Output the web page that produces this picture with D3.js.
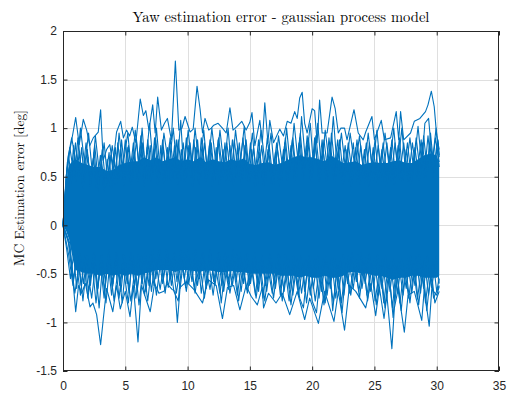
<!DOCTYPE html>
<html><head><meta charset="utf-8">
<script src="https://cdn.jsdelivr.net/npm/d3@7"></script>
<style>body{margin:0;background:#fff}</style></head>
<body><svg id="chart" width="514" height="394"></svg>
<script>
// ---------- data ----------
const titleText = "Yaw estimation error - gaussian process model";
const yLabelText = "MC Estimation error [deg]";
const xTicks = [0, 5, 10, 15, 20, 25, 30, 35];
const yTicks = [-1.5, -1, -0.5, 0, 0.5, 1, 1.5, 2];
const yTickLabels = ["-1.5", "-1", "-0.5", "0", "0.5", "1", "1.5", "2"];

// dense core of the Monte-Carlo bundle (solid band)
const coreTimes  = [0,0.25,0.5,0.75,1,1.5,2,2.5,3,3.5,4,4.5,5,5.5,6,6.5,7,7.5,8,8.5,9,9.5,10,10.5,11,11.5,12,12.5,13,13.5,14,14.5,15,15.5,16,16.5,17,17.5,18,18.5,19,19.5,20,20.5,21,21.5,22,22.5,23,23.5,24,24.5,25,25.5,26,26.5,27,27.5,28,28.5,29,29.5,30,30.2];
const coreTop    = [0,0.45,0.62,0.66,0.68,0.64,0.62,0.6,0.6,0.56,0.57,0.62,0.64,0.66,0.66,0.7,0.67,0.7,0.66,0.68,0.7,0.66,0.68,0.66,0.7,0.65,0.68,0.66,0.65,0.68,0.66,0.69,0.63,0.62,0.64,0.65,0.62,0.64,0.67,0.7,0.72,0.7,0.7,0.68,0.66,0.72,0.68,0.64,0.65,0.66,0.62,0.64,0.65,0.64,0.64,0.66,0.67,0.64,0.64,0.68,0.72,0.74,0.72,0.64];
const coreBottom = [0,-0.06,-0.15,-0.32,-0.46,-0.48,-0.5,-0.5,-0.52,-0.5,-0.52,-0.5,-0.52,-0.5,-0.52,-0.5,-0.48,-0.46,-0.46,-0.46,-0.48,-0.46,-0.46,-0.47,-0.48,-0.46,-0.47,-0.48,-0.48,-0.47,-0.48,-0.48,-0.5,-0.5,-0.5,-0.5,-0.5,-0.52,-0.52,-0.52,-0.54,-0.52,-0.54,-0.54,-0.52,-0.54,-0.54,-0.52,-0.48,-0.48,-0.5,-0.5,-0.52,-0.52,-0.54,-0.56,-0.54,-0.54,-0.52,-0.52,-0.54,-0.54,-0.54,-0.52];

// individual runs visible at the edges of the bundle: [time s, error deg]
const upperRun1 = [[0,0],[0.3,0.55],[0.56,0.78],[0.8,0.95],[1.02,1.11],[1.3,0.83],[1.63,1.09],[1.9,0.98],[2.15,0.82],[2.43,0.9],[2.83,0.96],[3.02,1.19],[3.23,0.67],[3.5,0.78],[3.76,0.83],[4.0,0.62],[4.3,0.96],[4.63,1.07],[4.85,0.9],[5.1,0.98],[5.35,0.92],[5.56,1.01],[5.85,0.85],[6.2,1.3],[6.45,1.13],[6.65,1.18],[6.9,0.98],[7.2,1.24],[7.4,0.95],[7.6,1.32],[7.9,0.98],[8.15,1.05],[8.38,1.1],[8.7,0.88],[9.02,1.69],[9.3,0.98],[9.55,1.0],[9.8,1.12],[10.2,0.96],[10.45,0.99],[10.76,1.43],[11.0,1.2],[11.2,0.95],[11.4,1.1],[11.7,0.98],[11.9,1.0],[12.1,1.03],[12.45,1.05],[12.8,1.0],[13.1,0.95],[13.4,1.21],[13.65,0.98],[14.0,1.02],[14.35,1.07],[14.7,0.98],[15.0,1.06],[15.17,1.16],[15.4,0.82],[15.8,1.08],[16.0,0.85],[16.2,1.26],[16.45,0.85],[16.6,1.08],[16.9,0.85],[17.4,0.99],[17.7,0.92],[18.0,1.07],[18.3,1.05],[18.6,1.17],[18.8,1.1],[19.0,1.31],[19.2,1.37],[19.4,1.05],[19.6,0.95],[20.0,1.2],[20.2,1.18],[20.4,0.85],[20.6,1.29],[20.8,0.95],[21.2,0.95],[21.6,1.32],[21.85,1.2],[22.1,0.95],[22.3,1.0],[22.6,1.0],[22.8,0.88],[23.36,1.19],[23.7,0.95],[24.1,0.88],[24.3,0.96],[24.8,1.12],[25.0,0.88],[25.55,1.08],[25.8,0.88],[26.3,0.9],[26.75,1.17],[26.95,0.88],[27.1,1.17],[27.35,0.88],[27.9,0.95],[28.2,1.07],[28.65,1.1],[29.1,1.17],[29.3,1.24],[29.57,1.38],[29.8,1.22],[30.0,0.92],[30.2,0.78]];
const upperRun2 = [[0,0],[0.4,0.7],[0.7,0.9],[1.1,0.6],[1.4,1.0],[1.75,0.62],[2.05,0.95],[2.35,0.55],[2.6,0.92],[2.95,0.5],[3.3,0.85],[3.6,0.45],[3.95,0.82],[4.25,0.55],[4.5,0.95],[4.8,0.6],[5.2,0.95],[5.5,0.55],[5.8,0.98],[6.1,0.62],[6.35,1.0],[6.6,0.58],[6.95,1.05],[7.25,0.6],[7.5,1.0],[7.8,0.55],[8.1,0.95],[8.5,0.6],[8.85,1.0],[9.15,0.58],[9.45,1.08],[9.7,0.55],[10.05,0.98],[10.35,0.6],[10.6,1.0],[10.95,0.58],[11.3,0.98],[11.6,0.55],[11.95,1.0],[12.3,0.6],[12.6,0.98],[12.95,0.58],[13.25,1.0],[13.55,0.55],[13.85,0.98],[14.2,0.6],[14.55,1.02],[14.85,0.55],[15.2,0.95],[15.5,0.52],[15.9,0.98],[16.3,0.55],[16.7,0.95],[17.0,0.52],[17.3,0.92],[17.65,0.58],[17.95,1.0],[18.25,0.6],[18.55,1.05],[18.9,0.62],[19.15,1.12],[19.5,0.6],[19.85,1.05],[20.1,0.62],[20.45,1.05],[20.75,0.58],[21.05,0.98],[21.4,0.6],[21.7,1.12],[22.0,0.6],[22.35,0.95],[22.7,0.55],[23.05,0.95],[23.45,0.58],[23.8,0.92],[24.15,0.52],[24.5,0.95],[24.85,0.55],[25.2,0.98],[25.5,0.55],[25.85,0.95],[26.2,0.58],[26.55,1.0],[26.85,0.58],[27.2,1.0],[27.5,0.55],[27.85,0.9],[28.15,0.58],[28.5,1.02],[28.8,0.62],[29.05,1.05],[29.35,1.1],[29.65,0.65],[29.95,1.0],[30.2,0.72]];
const upperRun3 = [[0,0],[0.25,0.5],[0.55,0.8],[0.9,0.5],[1.2,0.9],[1.55,0.48],[1.85,0.85],[2.25,0.45],[2.55,0.82],[2.85,0.42],[3.15,0.78],[3.45,0.4],[3.85,0.72],[4.15,0.42],[4.4,0.85],[4.7,0.48],[5.0,0.88],[5.3,0.45],[5.65,0.85],[5.95,0.5],[6.25,0.92],[6.55,0.48],[6.8,0.88],[7.1,0.5],[7.35,0.9],[7.7,0.45],[8.0,0.88],[8.3,0.5],[8.6,0.9],[8.95,0.48],[9.25,0.88],[9.6,0.45],[9.9,0.9],[10.25,0.5],[10.5,0.88],[10.85,0.45],[11.1,0.9],[11.5,0.48],[11.8,0.88],[12.15,0.45],[12.5,0.9],[12.85,0.5],[13.15,0.85],[13.5,0.45],[13.75,0.88],[14.1,0.5],[14.45,0.9],[14.75,0.45],[15.05,0.85],[15.35,0.42],[15.7,0.88],[16.05,0.45],[16.4,0.9],[16.8,0.45],[17.15,0.85],[17.5,0.48],[17.85,0.9],[18.15,0.5],[18.45,0.9],[18.75,0.5],[19.05,0.95],[19.35,0.52],[19.7,0.9],[20.0,0.5],[20.3,0.92],[20.65,0.48],[20.95,0.88],[21.3,0.5],[21.55,0.95],[21.9,0.5],[22.2,0.88],[22.55,0.45],[22.9,0.85],[23.25,0.48],[23.6,0.88],[23.95,0.45],[24.35,0.85],[24.65,0.45],[25.05,0.88],[25.35,0.48],[25.7,0.85],[26.05,0.45],[26.4,0.88],[26.7,0.5],[27.0,0.9],[27.3,0.48],[27.65,0.85],[28.0,0.45],[28.35,0.9],[28.7,0.52],[28.95,0.92],[29.25,0.55],[29.5,0.95],[29.8,0.55],[30.1,0.88],[30.2,0.7]];
const upperRun4 = [[0,0],[0.35,0.65],[0.6,0.4],[0.85,0.82],[1.05,0.45],[1.3,0.75],[1.6,0.38],[1.95,0.78],[2.2,0.42],[2.45,0.7],[2.7,0.38],[3.0,0.72],[3.3,0.35],[3.55,0.68],[3.8,0.4],[4.05,0.7],[4.35,0.42],[4.6,0.78],[4.9,0.4],[5.15,0.8],[5.45,0.42],[5.7,0.75],[6.0,0.45],[6.3,0.82],[6.5,0.4],[6.75,0.8],[7.05,0.45],[7.3,0.78],[7.6,0.42],[7.85,0.82],[8.1,0.4],[8.4,0.8],[8.65,0.45],[8.95,0.82],[9.2,0.42],[9.5,0.78],[9.8,0.45],[10.1,0.82],[10.4,0.4],[10.65,0.8],[10.9,0.42],[11.2,0.78],[11.45,0.45],[11.75,0.82],[12.0,0.4],[12.3,0.8],[12.55,0.42],[12.85,0.78],[13.1,0.45],[13.4,0.82],[13.7,0.4],[14.0,0.8],[14.3,0.42],[14.6,0.82],[14.9,0.45],[15.15,0.78],[15.45,0.4],[15.75,0.75],[16.1,0.4],[16.45,0.78],[16.75,0.42],[17.05,0.75],[17.35,0.4],[17.7,0.78],[18.0,0.45],[18.3,0.82],[18.6,0.45],[18.95,0.85],[19.25,0.48],[19.55,0.82],[19.9,0.45],[20.25,0.85],[20.55,0.45],[20.85,0.82],[21.15,0.45],[21.45,0.85],[21.8,0.45],[22.1,0.8],[22.45,0.42],[22.8,0.78],[23.15,0.4],[23.5,0.8],[23.85,0.42],[24.2,0.78],[24.55,0.4],[24.9,0.8],[25.25,0.42],[25.6,0.78],[25.95,0.4],[26.3,0.8],[26.6,0.42],[26.9,0.82],[27.25,0.45],[27.55,0.78],[27.9,0.42],[28.25,0.8],[28.6,0.45],[28.85,0.85],[29.15,0.5],[29.45,0.85],[29.7,0.5],[30.0,0.82],[30.2,0.6]];
const upperRun5 = [[0,0],[0.2,0.35],[0.45,0.72],[0.7,0.45],[1.0,0.85],[1.25,0.5],[1.5,0.8],[1.7,0.45],[2.0,0.7],[2.2,0.4],[2.5,0.75],[2.8,0.35],[3.1,0.65],[3.35,0.4],[3.7,0.75],[3.9,0.38],[4.2,0.8],[4.45,0.45],[4.7,0.88],[5.0,0.5],[5.25,0.82],[5.55,0.45],[5.9,0.88],[6.15,0.5],[6.4,0.85],[6.7,0.45],[7.0,0.82],[7.2,0.5],[7.45,0.88],[7.75,0.5],[8.05,0.8],[8.3,0.45],[8.55,0.85],[8.8,0.5],[9.1,0.88],[9.35,0.45],[9.65,0.85],[9.95,0.5],[10.2,0.85],[10.5,0.45],[10.8,0.88],[11.05,0.5],[11.35,0.85],[11.65,0.48],[11.9,0.85],[12.2,0.45],[12.45,0.88],[12.75,0.48],[13.0,0.85],[13.3,0.45],[13.6,0.88],[13.9,0.5],[14.15,0.85],[14.4,0.48],[14.7,0.88],[15.0,0.45],[15.3,0.8],[15.6,0.42],[15.95,0.82],[16.25,0.45],[16.55,0.82],[16.9,0.42],[17.2,0.8],[17.55,0.45],[17.8,0.85],[18.1,0.48],[18.4,0.88],[18.7,0.5],[19.0,0.9],[19.3,0.5],[19.6,0.92],[19.95,0.52],[20.2,0.9],[20.5,0.5],[20.8,0.88],[21.1,0.5],[21.35,0.9],[21.7,0.5],[22.05,0.88],[22.3,0.48],[22.65,0.82],[22.95,0.45],[23.3,0.85],[23.6,0.45],[23.9,0.82],[24.25,0.42],[24.6,0.85],[24.95,0.45],[25.3,0.82],[25.65,0.45],[26.0,0.85],[26.35,0.45],[26.65,0.85],[27.0,0.48],[27.35,0.85],[27.7,0.45],[28.05,0.85],[28.4,0.5],[28.75,0.88],[29.0,0.5],[29.3,0.92],[29.6,0.55],[29.9,0.9],[30.2,0.65]];
const lowerRun1 = [[0,0],[0.3,-0.1],[0.56,-0.19],[0.75,-0.5],[1.02,-0.89],[1.25,-0.62],[1.5,-0.7],[1.8,-0.6],[2.17,-0.84],[2.4,-0.8],[2.7,-0.92],[3.02,-1.23],[3.23,-0.97],[3.5,-0.65],[4.0,-0.89],[4.3,-0.62],[4.6,-0.86],[5.0,-0.68],[5.38,-0.94],[5.65,-0.62],[6.02,-1.2],[6.3,-0.62],[7.0,-0.89],[7.35,-0.6],[7.7,-0.7],[8.1,-0.68],[8.35,-0.6],[8.75,-0.66],[9.0,-0.68],[9.18,-1.0],[9.4,-0.64],[9.9,-0.58],[10.5,-0.66],[11.2,-0.8],[11.65,-0.56],[12.3,-0.62],[12.8,-0.96],[13.2,-0.64],[13.7,-0.62],[14.2,-0.87],[14.7,-0.62],[15.1,-0.73],[15.6,-0.82],[16.0,-0.64],[16.1,-0.85],[16.5,-0.7],[17.1,-0.8],[17.6,-0.7],[18.2,-0.92],[18.8,-0.68],[19.4,-0.97],[19.8,-0.75],[20.5,-1.01],[21.0,-0.68],[21.75,-0.99],[22.1,-0.68],[22.6,-1.08],[23.0,-0.62],[23.5,-0.68],[24.3,-0.85],[24.7,-0.6],[25.1,-0.93],[25.4,-0.64],[25.77,-0.96],[26.0,-0.72],[26.4,-1.27],[26.6,-0.85],[26.9,-0.66],[27.4,-1.1],[27.7,-0.72],[28.2,-0.68],[28.8,-0.98],[29.0,-0.66],[29.4,-1.04],[29.6,-0.66],[30.0,-0.72],[30.2,-0.63]];
const lowerRun2 = [[0,0],[0.4,-0.15],[0.7,-0.45],[0.95,-0.7],[1.3,-0.4],[1.6,-0.78],[1.9,-0.4],[2.3,-0.75],[2.6,-0.42],[2.9,-0.85],[3.15,-0.45],[3.45,-0.8],[3.75,-0.4],[4.1,-0.78],[4.45,-0.42],[4.75,-0.8],[5.05,-0.4],[5.45,-0.78],[5.8,-0.42],[6.1,-0.82],[6.45,-0.4],[6.8,-0.78],[7.15,-0.38],[7.5,-0.72],[7.85,-0.35],[8.2,-0.7],[8.55,-0.35],[8.9,-0.68],[9.25,-0.78],[9.55,-0.38],[9.9,-0.68],[10.25,-0.35],[10.6,-0.7],[10.95,-0.38],[11.35,-0.75],[11.7,-0.38],[12.05,-0.72],[12.4,-0.36],[12.7,-0.8],[13.05,-0.4],[13.4,-0.7],[13.8,-0.38],[14.1,-0.78],[14.45,-0.4],[14.8,-0.7],[15.15,-0.4],[15.5,-0.75],[15.85,-0.42],[16.2,-0.78],[16.55,-0.4],[16.9,-0.75],[17.25,-0.4],[17.6,-0.78],[17.95,-0.42],[18.3,-0.82],[18.65,-0.42],[19.0,-0.75],[19.3,-0.85],[19.65,-0.42],[20.0,-0.78],[20.35,-0.9],[20.7,-0.42],[21.05,-0.8],[21.4,-0.4],[21.65,-0.88],[22.0,-0.42],[22.4,-0.9],[22.75,-0.4],[23.1,-0.72],[23.45,-0.38],[23.8,-0.75],[24.15,-0.4],[24.45,-0.78],[24.8,-0.4],[25.15,-0.82],[25.5,-0.42],[25.85,-0.85],[26.15,-0.45],[26.5,-0.95],[26.8,-0.45],[27.15,-0.88],[27.5,-0.42],[27.85,-0.8],[28.2,-0.4],[28.55,-0.82],[28.9,-0.42],[29.2,-0.88],[29.55,-0.45],[29.85,-0.8],[30.2,-0.68]];
const lowerRun3 = [[0,0],[0.5,-0.2],[0.85,-0.55],[1.15,-0.3],[1.45,-0.62],[1.75,-0.32],[2.05,-0.68],[2.45,-0.3],[2.75,-0.7],[3.05,-0.32],[3.35,-0.68],[3.65,-0.3],[3.95,-0.65],[4.35,-0.3],[4.65,-0.68],[4.95,-0.32],[5.3,-0.7],[5.6,-0.3],[5.95,-0.68],[6.3,-0.32],[6.65,-0.68],[7.0,-0.3],[7.3,-0.62],[7.65,-0.28],[8.0,-0.6],[8.4,-0.28],[8.7,-0.62],[9.05,-0.3],[9.4,-0.65],[9.75,-0.28],[10.1,-0.6],[10.45,-0.28],[10.8,-0.62],[11.15,-0.3],[11.5,-0.65],[11.85,-0.3],[12.2,-0.62],[12.55,-0.28],[12.9,-0.68],[13.25,-0.32],[13.6,-0.62],[13.95,-0.3],[14.3,-0.68],[14.65,-0.3],[14.95,-0.62],[15.3,-0.32],[15.7,-0.68],[16.0,-0.32],[16.35,-0.68],[16.7,-0.32],[17.05,-0.65],[17.4,-0.32],[17.75,-0.68],[18.1,-0.35],[18.45,-0.72],[18.8,-0.35],[19.15,-0.7],[19.5,-0.35],[19.85,-0.72],[20.2,-0.35],[20.55,-0.75],[20.9,-0.35],[21.2,-0.72],[21.55,-0.35],[21.9,-0.75],[22.25,-0.35],[22.55,-0.72],[22.9,-0.32],[23.3,-0.65],[23.65,-0.3],[24.0,-0.65],[24.35,-0.32],[24.7,-0.68],[25.0,-0.35],[25.35,-0.72],[25.65,-0.35],[26.0,-0.75],[26.3,-0.38],[26.65,-0.78],[26.95,-0.38],[27.3,-0.72],[27.65,-0.35],[28.0,-0.7],[28.35,-0.32],[28.7,-0.7],[29.0,-0.35],[29.35,-0.72],[29.7,-0.35],[30.0,-0.68],[30.2,-0.55]];
const lowerRun4 = [[0,0],[0.3,-0.25],[0.6,-0.55],[0.85,-0.3],[1.1,-0.65],[1.35,-0.28],[1.65,-0.6],[1.95,-0.3],[2.2,-0.62],[2.5,-0.28],[2.8,-0.65],[3.1,-0.3],[3.4,-0.58],[3.7,-0.25],[4.0,-0.6],[4.25,-0.28],[4.55,-0.62],[4.85,-0.3],[5.15,-0.6],[5.45,-0.28],[5.75,-0.62],[6.05,-0.3],[6.35,-0.6],[6.6,-0.28],[6.9,-0.62],[7.2,-0.25],[7.45,-0.55],[7.75,-0.25],[8.05,-0.55],[8.3,-0.25],[8.6,-0.55],[8.9,-0.28],[9.15,-0.58],[9.45,-0.25],[9.75,-0.55],[10.05,-0.25],[10.35,-0.58],[10.65,-0.25],[10.95,-0.55],[11.25,-0.28],[11.55,-0.58],[11.8,-0.25],[12.1,-0.58],[12.45,-0.28],[12.75,-0.62],[13.0,-0.28],[13.3,-0.58],[13.65,-0.25],[13.9,-0.58],[14.2,-0.28],[14.5,-0.6],[14.8,-0.28],[15.05,-0.6],[15.4,-0.28],[15.65,-0.62],[15.95,-0.3],[16.25,-0.62],[16.6,-0.3],[16.95,-0.6],[17.3,-0.3],[17.55,-0.62],[17.85,-0.3],[18.2,-0.65],[18.5,-0.32],[18.85,-0.65],[19.1,-0.32],[19.4,-0.68],[19.75,-0.32],[20.1,-0.65],[20.45,-0.32],[20.75,-0.68],[21.1,-0.32],[21.45,-0.65],[21.8,-0.32],[22.15,-0.68],[22.5,-0.3],[22.85,-0.6],[23.2,-0.28],[23.55,-0.58],[23.9,-0.28],[24.25,-0.6],[24.6,-0.3],[24.95,-0.62],[25.25,-0.3],[25.6,-0.65],[25.9,-0.32],[26.25,-0.68],[26.55,-0.35],[26.85,-0.7],[27.2,-0.35],[27.55,-0.65],[27.9,-0.32],[28.25,-0.62],[28.6,-0.3],[28.95,-0.65],[29.25,-0.32],[29.6,-0.65],[29.95,-0.32],[30.2,-0.6]];
const lowerRun5 = [[0,0],[0.45,-0.3],[0.8,-0.62],[1.05,-0.35],[1.4,-0.72],[1.7,-0.38],[2.0,-0.75],[2.35,-0.4],[2.65,-0.8],[3.0,-0.4],[3.3,-0.75],[3.6,-0.35],[3.9,-0.72],[4.2,-0.38],[4.5,-0.75],[4.8,-0.4],[5.25,-0.8],[5.5,-0.38],[5.85,-0.75],[6.2,-0.4],[6.55,-0.72],[6.85,-0.38],[7.1,-0.68],[7.4,-0.35],[7.8,-0.66],[8.15,-0.35],[8.45,-0.64],[8.8,-0.35],[9.1,-0.7],[9.5,-0.35],[9.85,-0.64],[10.2,-0.35],[10.55,-0.65],[10.85,-0.35],[11.1,-0.7],[11.4,-0.38],[11.8,-0.66],[12.15,-0.35],[12.6,-0.7],[12.95,-0.38],[13.3,-0.66],[13.6,-0.35],[14.0,-0.72],[14.35,-0.38],[14.75,-0.66],[15.05,-0.38],[15.45,-0.72],[15.75,-0.38],[16.05,-0.75],[16.4,-0.4],[16.8,-0.7],[17.15,-0.38],[17.45,-0.72],[17.8,-0.4],[18.15,-0.78],[18.55,-0.42],[18.9,-0.72],[19.25,-0.42],[19.55,-0.8],[19.9,-0.42],[20.25,-0.78],[20.6,-0.42],[20.95,-0.82],[21.3,-0.42],[21.7,-0.8],[22.05,-0.42],[22.35,-0.8],[22.7,-0.4],[23.0,-0.7],[23.4,-0.38],[23.75,-0.68],[24.1,-0.38],[24.4,-0.72],[24.75,-0.4],[25.05,-0.78],[25.45,-0.42],[25.75,-0.8],[26.1,-0.42],[26.45,-0.85],[26.75,-0.42],[27.05,-0.8],[27.4,-0.42],[27.75,-0.75],[28.1,-0.4],[28.45,-0.76],[28.8,-0.42],[29.1,-0.8],[29.45,-0.42],[29.75,-0.75],[30.2,-0.62]];
const runs = [upperRun5, lowerRun4, upperRun4, lowerRun5, upperRun3, lowerRun3, upperRun2, lowerRun2, upperRun1, lowerRun1];

// ---------- drawing ----------
const W = 514, H = 394;
const M = {left: 63, right: 499, top: 31, bottom: 371};
const lineColor = "#0072BD", axisColor = "#262626", gridColor = "#dfdfdf";
const svg = d3.select("#chart");
svg.append("rect").attr("width", W).attr("height", H).attr("fill", "#fff");

const x = d3.scaleLinear().domain([0, 35]).range([M.left, M.right]);
const y = d3.scaleLinear().domain([-1.5, 2]).range([M.bottom, M.top]);

// grid
const grid = svg.append("g");
grid.selectAll("line.gx").data(xTicks.slice(1, -1)).join("line")
  .attr("x1", d => Math.round(x(d)) + 0.5).attr("x2", d => Math.round(x(d)) + 0.5)
  .attr("y1", M.top).attr("y2", M.bottom).attr("stroke", gridColor);
grid.selectAll("line.gy").data(yTicks.slice(1, -1)).join("line")
  .attr("y1", d => Math.round(y(d)) + 0.5).attr("y2", d => Math.round(y(d)) + 0.5)
  .attr("x1", M.left).attr("x2", M.right).attr("stroke", gridColor);

// data
const plot = svg.append("g");
const area = d3.area().x((d, i) => x(coreTimes[i])).y0((d, i) => y(coreBottom[i])).y1((d, i) => y(coreTop[i]));
plot.append("path").datum(coreTimes).attr("d", area).attr("fill", lineColor);
const line = d3.line().x(d => x(d[0])).y(d => y(d[1]));
plot.selectAll("path.run").data(runs).join("path").attr("class", "run")
  .attr("d", line).attr("fill", "none").attr("stroke", lineColor)
  .attr("stroke-width", 1.1).attr("stroke-linejoin", "round");

// axes (MATLAB style: inward ticks on all four sides, box)
const tk = 4.5;
const fmtY = d => yTickLabels[yTicks.indexOf(d)];
const styleAxis = g => {
  g.select(".domain").remove();
  g.selectAll("line").attr("stroke", axisColor);
  g.selectAll("text").attr("fill", axisColor).style("font-family", "'Liberation Sans', Arial, sans-serif").style("font-size", "12px");
};
svg.append("g").attr("transform", `translate(0,${M.bottom})`)
  .call(d3.axisBottom(x).tickValues(xTicks).tickSizeInner(-tk).tickSizeOuter(0).tickPadding(10).tickFormat(d3.format("d")))
  .call(styleAxis);
svg.append("g").attr("transform", `translate(0,${M.top})`)
  .call(d3.axisTop(x).tickValues(xTicks).tickSizeInner(-tk).tickSizeOuter(0).tickFormat(""))
  .call(styleAxis);
svg.append("g").attr("transform", `translate(${M.left},0)`)
  .call(d3.axisLeft(y).tickValues(yTicks).tickSizeInner(-tk).tickSizeOuter(0).tickPadding(6).tickFormat(fmtY))
  .call(styleAxis);
svg.append("g").attr("transform", `translate(${M.right},0)`)
  .call(d3.axisRight(y).tickValues(yTicks).tickSizeInner(-tk).tickSizeOuter(0).tickFormat(""))
  .call(styleAxis);
svg.append("rect").attr("x", M.left + 0.5).attr("y", M.top + 0.5)
  .attr("width", M.right - M.left - 1).attr("height", M.bottom - M.top - 1)
  .attr("fill", "none").attr("stroke", axisColor).attr("stroke-width", 1);

// title & y label (serif, like MATLAB's LaTeX text)
const serif = "'Latin Modern Roman','CMU Serif','DejaVu Serif',serif";
const t = svg.append("text").attr("x", (M.left + M.right) / 2).attr("y", 22)
  .attr("text-anchor", "middle").attr("fill", "#000")
  .style("font-family", serif).style("font-size", "12px").text(titleText);
const tw = t.node().getComputedTextLength();
const titleSize = 12 * 297 / tw;
t.style("font-size", titleSize + "px");
svg.append("text").attr("transform", `translate(24,188) rotate(-90)`)
  .attr("text-anchor", "middle").attr("fill", "#000")
  .style("font-family", serif).style("font-size", (titleSize * 0.92) + "px").text(yLabelText);
</script></body></html>
